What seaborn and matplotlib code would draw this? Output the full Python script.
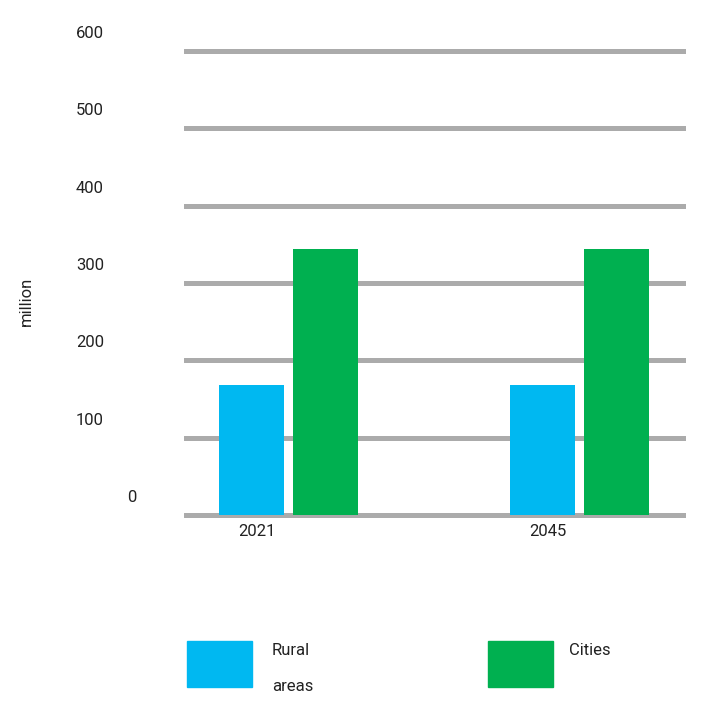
import matplotlib
matplotlib.use("Agg")
import matplotlib.pyplot as plt
from matplotlib.patches import Rectangle
from matplotlib.transforms import ScaledTranslation
import seaborn as sns
import pandas as pd

years = ["2021", "2045"]
series = ["Rural areas", "Cities"]
legend_labels = ["Rural\n\nareas", "Cities"]
rural = [168, 168]
cities = [344, 344]
yticks = [0, 100, 200, 300, 400, 500, 600]
colors = ["#00B8F1", "#00B050"]

df = pd.DataFrame({
    "year": years * 2,
    "series": [series[0]] * len(years) + [series[1]] * len(years),
    "value": rural + cities,
})

sns.set_theme(style="white")
plt.rcParams["font.family"] = ["Roboto", "DejaVu Sans"]

W, H = 712, 724
fig = plt.figure(figsize=(W / 100, H / 100), dpi=100)
ax = fig.add_axes([184 / W, (H - 518) / H, (686 - 184) / W, (518 - 48) / H])

sns.barplot(data=df, x="year", y="value", hue="series", palette=colors,
            width=0.509, gap=0.122, ax=ax, legend=False, saturation=1,
            linewidth=0, edgecolor="none", zorder=3)

ax.set_ylim(-4, 604)
ax.set_xlim(-0.359, 1.366)
for sp in ax.spines.values():
    sp.set_visible(False)
for v in yticks:
    ax.axhline(v, color="#ABABAB", lw=3.6, zorder=1)

ax.set_yticks(yticks)
ax.set_yticklabels([str(v) for v in yticks], fontsize=12, color="#222222")
ax.tick_params(axis="y", length=0, pad=57.6)
for lab in ax.get_yticklabels():
    dx = 32 / 100 if lab.get_text() == "0" else 0
    lab.set_transform(lab.get_transform() + ScaledTranslation(dx, 19 / 100, fig.dpi_scale_trans))

ax.set_xticks([i - 0.11 for i in range(len(years))])
ax.set_xticklabels(years, fontsize=12, color="#222222")
ax.tick_params(axis="x", length=0, pad=4)
ax.set_xlabel("")
ax.set_ylabel("")

fig.text(26 / W, 1 - 301 / H, "million", rotation=90, ha="center", va="center",
         fontsize=12, color="#222222")

# legend
for i, (lab, col) in enumerate(zip(legend_labels, colors)):
    x0 = [187, 488][i]
    tx = [272, 569][i]
    fig.add_artist(Rectangle((x0 / W, 1 - 687 / H), 65 / W, 46 / H,
                             transform=fig.transFigure, color=col))
    fig.text(tx / W, 1 - 643 / H, lab, ha="left", va="top",
             fontsize=12, color="#222222", linespacing=1.25)

fig.savefig("out.png", dpi=100)
